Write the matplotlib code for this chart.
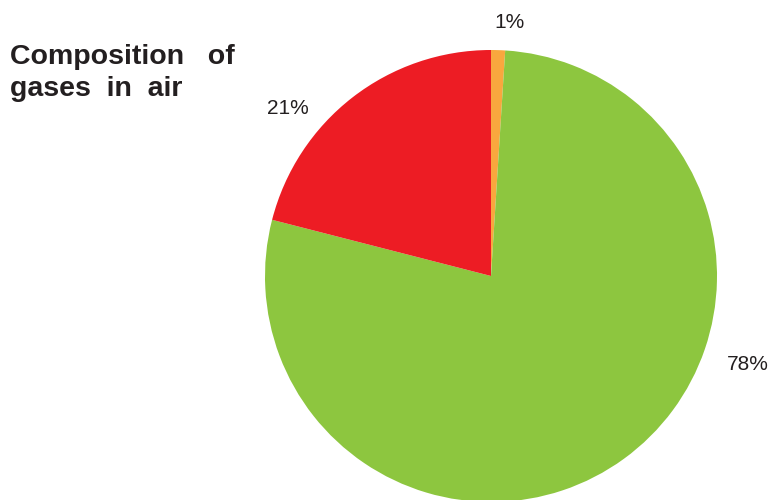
import matplotlib
matplotlib.use("Agg")
import matplotlib.pyplot as plt

# data
gases = ["Other", "Nitrogen", "Oxygen"]
shares = [1, 78, 21]
colors = ["#F9A73E", "#8DC63F", "#ED1C24"]
labels = ["1%", "78%", "21%"]

# label positions in pixels (hand placed, like the original)
label_pos = [(510, 22), (748, 364), (288, 108)]

W, H = 775, 500
fig = plt.figure(figsize=(W / 100, H / 100), dpi=100)
ax = fig.add_axes([0, 0, 1, 1])

ax.pie(shares, colors=colors, startangle=90, counterclock=False,
       center=(491, H - 276), radius=226,
       wedgeprops=dict(linewidth=0), frame=True)
ax.set_xlim(0, W)
ax.set_ylim(0, H)
ax.set_aspect("equal")
ax.axis("off")

for txt, (x, y) in zip(labels, label_pos):
    ax.text(x, H - y, txt, ha="center", va="center",
            fontsize=15, family="Liberation Sans", color="#231F20")

fig.text(10 / W, 1 - 73 / H, "Composition   of\ngases  in  air",
         ha="left", va="center", fontsize=20.5, fontweight="bold",
         family="Liberation Sans", color="#231F20", linespacing=1.3)

fig.savefig("out.png", dpi=100)
